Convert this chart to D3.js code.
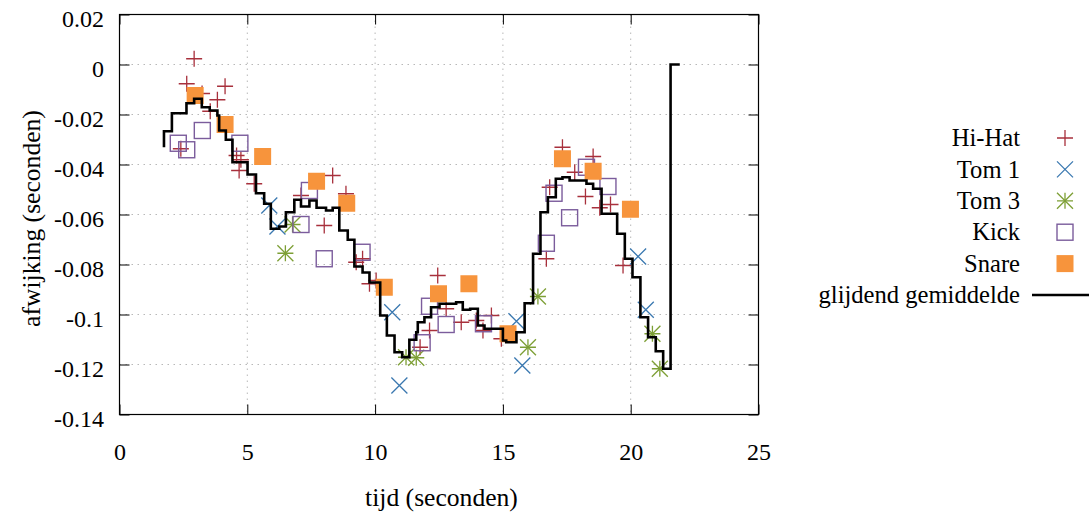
<!DOCTYPE html>
<html><head><meta charset="utf-8">
<script src="https://cdn.jsdelivr.net/npm/d3@7"></script>
<style>body{margin:0;background:#fff}svg{display:block}text{font-family:"Liberation Serif","Times New Roman",serif;fill:#000}</style>
</head><body><svg id="c" width="1089" height="514"></svg>
<script>
// ---- data ----
const xTicks = [0, 5, 10, 15, 20, 25];
const yTicks = [0.02, 0, -0.02, -0.04, -0.06, -0.08, -0.1, -0.12, -0.14];
const yTickLabels = ["0.02", "0", "-0.02", "-0.04", "-0.06", "-0.08", "-0.1", "-0.12", "-0.14"];
const seriesNames = ["Hi-Hat", "Tom 1", "Tom 3", "Kick", "Snare", "glijdend gemiddelde"];

const hiHat = [[2.92,0.0023],[2.63,-0.0077],[4.13,-0.0087],[3.83,-0.0141],[3.23,-0.0116],[3.55,-0.0187],[2.40,-0.0337],[4.58,-0.0364],[4.75,-0.0381],[4.68,-0.0424],[5.27,-0.0477],[8.34,-0.0444],[7.10,-0.0524],[8.01,-0.0644],[8.86,-0.0517],[9.51,-0.0777],[9.78,-0.0877],[9.26,-0.0791],[10.04,-0.0864],[12.45,-0.0844],[12.78,-0.0977],[12.13,-0.1064],[11.76,-0.1131],[13.37,-0.1031],[13.96,-0.1024],[14.55,-0.1004],[14.22,-0.1064],[14.94,-0.1097],[17.33,-0.0331],[18.53,-0.0368],[17.81,-0.0431],[16.83,-0.0491],[18.23,-0.0528],[18.79,-0.0573],[19.21,-0.056],[16.70,-0.0777],[19.70,-0.0804]];
const tom1 = [[5.86,-0.0564],[6.18,-0.0648],[10.67,-0.0991],[10.95,-0.1284],[15.53,-0.1027],[15.76,-0.1204],[20.29,-0.0768],[20.59,-0.0981]];
const tom3 = [[6.77,-0.064],[6.49,-0.0755],[11.21,-0.1171],[11.61,-0.1173],[15.98,-0.1131],[16.37,-0.0928],[20.85,-0.1077],[21.14,-0.1217]];
const kick = [[3.24,-0.0264],[2.30,-0.0315],[2.63,-0.0341],[4.71,-0.0315],[7.43,-0.0504],[7.10,-0.064],[8.01,-0.0777],[9.49,-0.0751],[12.13,-0.0967],[12.78,-0.104],[11.84,-0.1113],[14.24,-0.1037],[18.27,-0.0411],[19.11,-0.0488],[17.0,-0.0515],[17.61,-0.0613],[16.70,-0.0715]];
const snare = [[2.96,-0.0124],[4.13,-0.024],[5.60,-0.0368],[7.71,-0.0467],[8.89,-0.0555],[10.36,-0.0891],[12.48,-0.0917],[13.67,-0.0877],[15.2,-0.1077],[17.33,-0.0377],[18.53,-0.0427],[19.99,-0.0579]];
const movingAvg = [[1.74,-0.0331],[1.74,-0.0267],[2.05,-0.0195],[2.62,-0.0155],[2.92,-0.0137],[3.22,-0.0171],[3.53,-0.0184],[3.83,-0.0204],[3.90,-0.0264],[4.16,-0.0301],[4.42,-0.0391],[5.01,-0.044],[5.34,-0.0515],[5.66,-0.0557],[5.92,-0.0657],[6.25,-0.0648],[6.51,-0.0591],[6.84,-0.0541],[7.10,-0.0568],[7.43,-0.0544],[7.71,-0.0573],[8.08,-0.0584],[8.34,-0.0573],[8.60,-0.0664],[8.93,-0.0701],[9.19,-0.0808],[9.51,-0.0832],[9.78,-0.0872],[10.2,-0.1004],[10.46,-0.1084],[10.76,-0.1151],[11.06,-0.1171],[11.34,-0.1101],[11.61,-0.1071],[11.67,-0.1031],[11.93,-0.1011],[12.19,-0.0971],[12.52,-0.0957],[13.17,-0.0951],[13.43,-0.0981],[13.72,-0.0977],[14.02,-0.1044],[14.28,-0.1057],[15.0,-0.1104],[15.13,-0.1111],[15.53,-0.1071],[15.85,-0.0955],[16.18,-0.0757],[16.47,-0.0591],[16.76,-0.0531],[17.07,-0.0457],[17.33,-0.0451],[17.61,-0.0464],[18.27,-0.0477],[18.53,-0.0497],[18.86,-0.0597],[19.47,-0.0677],[19.77,-0.0777],[20.07,-0.0851],[20.38,-0.1011],[20.68,-0.1091],[20.98,-0.1147],[21.27,-0.1217],[21.56,0],[21.92,0]];

// ---- layout ----
const L = 119.5, R = 758.5, T = 14.5, B = 414.5;
const FS_TICK = 24, FS_LEG = 24.6, FS_TITLE = 25.6;
const colors = {hh:"#a8303c", t1:"#3a78b0", t3:"#7d9f35", kick:"#7b5c9c", snare:"#f7943c"};

const svg = d3.select("#c");
const x = d3.scaleLinear().domain([0, 25]).range([L, R]);
const y = d3.scaleLinear().domain([-0.14, 0.02]).range([B, T]);

// grid
const grid = svg.append("g").attr("stroke", "#b8b8b8").attr("stroke-width", 1).attr("stroke-dasharray", "1.5,4.5");
grid.selectAll(".gx").data(xTicks.slice(1, -1)).join("line")
  .attr("x1", d => x(d)).attr("x2", d => x(d)).attr("y1", T).attr("y2", B);
grid.selectAll(".gy").data(yTicks.slice(1, -1)).join("line")
  .attr("y1", d => y(d)).attr("y2", d => y(d)).attr("x1", L).attr("x2", R);

// axes with inward ticks
const tk = 10;
const axL = svg.append("g").attr("transform", `translate(${L},0)`)
  .call(d3.axisLeft(y).tickValues(yTicks).tickSize(-tk).tickFormat((d, i) => yTickLabels[i]).tickPadding(15.5));
const axR = svg.append("g").attr("transform", `translate(${R},0)`)
  .call(d3.axisRight(y).tickValues(yTicks).tickSize(-tk).tickFormat(""));
const axB = svg.append("g").attr("transform", `translate(0,${B})`)
  .call(d3.axisBottom(x).tickValues(xTicks).tickSize(-tk).tickFormat(d3.format("d")).tickPadding(28));
const axT = svg.append("g").attr("transform", `translate(0,${T})`)
  .call(d3.axisTop(x).tickValues(xTicks).tickSize(-tk).tickFormat(""));
[axL, axR, axB, axT].forEach(a => {
  a.select(".domain").remove();
  a.selectAll("line").attr("stroke", "#000").attr("stroke-width", 1);
  a.selectAll("text").attr("font-family", "Liberation Serif").attr("font-size", FS_TICK).attr("fill", "#000");
});
axL.selectAll("text").attr("dy", "0.52em");
svg.append("rect").attr("x", L).attr("y", T).attr("width", R - L).attr("height", B - T)
  .attr("fill", "none").attr("stroke", "#000").attr("stroke-width", 1.2);

// markers
const S = 8;
function plus(g, c) { g.append("path").attr("d", `M${-S},0H${S}M0,${-S}V${S}`).attr("stroke", c).attr("stroke-width", 1.3).attr("fill", "none"); }
function cross(g, c) { g.append("path").attr("d", `M${-S},${-S}L${S},${S}M${-S},${S}L${S},${-S}`).attr("stroke", c).attr("stroke-width", 1.3).attr("fill", "none"); }
function star(g, c) { plus(g, c); cross(g, c); }
function box(g, c) { g.append("rect").attr("x", -S).attr("y", -S).attr("width", 2 * S).attr("height", 2 * S).attr("fill", "none").attr("stroke", c).attr("stroke-width", 1.4); }
function fbox(g, c) { g.append("rect").attr("x", -8.5).attr("y", -8.5).attr("width", 17).attr("height", 17).attr("fill", c); }

const series = [
  {data: hiHat, f: plus, c: colors.hh},
  {data: tom1, f: cross, c: colors.t1},
  {data: tom3, f: star, c: colors.t3},
  {data: kick, f: box, c: colors.kick},
  {data: snare, f: fbox, c: colors.snare}
];
series.forEach(s => {
  svg.append("g").selectAll("g").data(s.data).join("g")
    .attr("transform", d => `translate(${x(d[0])},${y(d[1])})`)
    .each(function () { s.f(d3.select(this), s.c); });
});

// moving average
svg.append("path").datum(movingAvg)
  .attr("d", d3.line().x(d => x(d[0])).y(d => y(d[1])).curve(d3.curveStepAfter))
  .attr("fill", "none").attr("stroke", "#000").attr("stroke-width", 2.6).attr("stroke-linejoin", "miter");

// legend
const legY0 = 138, legDY = 31.4, legTX = 1020, legMX = 1065;
const legFns = [plus, cross, star, box, fbox];
const legCols = [colors.hh, colors.t1, colors.t3, colors.kick, colors.snare];
seriesNames.forEach((n, i) => {
  const yy = legY0 + i * legDY;
  svg.append("text").attr("x", legTX).attr("y", yy).attr("dy", "0.33em").attr("text-anchor", "end")
    .attr("font-size", FS_LEG).text(n);
  if (i < 5) {
    const g = svg.append("g").attr("transform", `translate(${legMX},${yy})`);
    legFns[i](g, legCols[i]);
  } else {
    svg.append("line").attr("x1", 1032).attr("x2", 1089).attr("y1", yy).attr("y2", yy)
      .attr("stroke", "#000").attr("stroke-width", 2.6);
  }
});

// axis titles
svg.append("text").attr("x", 441.5).attr("y", 497).attr("dy", "0.35em").attr("text-anchor", "middle")
  .attr("font-size", FS_TITLE).text("tijd (seconden)");
svg.append("text").attr("transform", "translate(31,218.5) rotate(-90)").attr("dy", "0.35em")
  .attr("text-anchor", "middle").attr("font-size", FS_TITLE).text("afwijking (seconden)");
</script></body></html>
